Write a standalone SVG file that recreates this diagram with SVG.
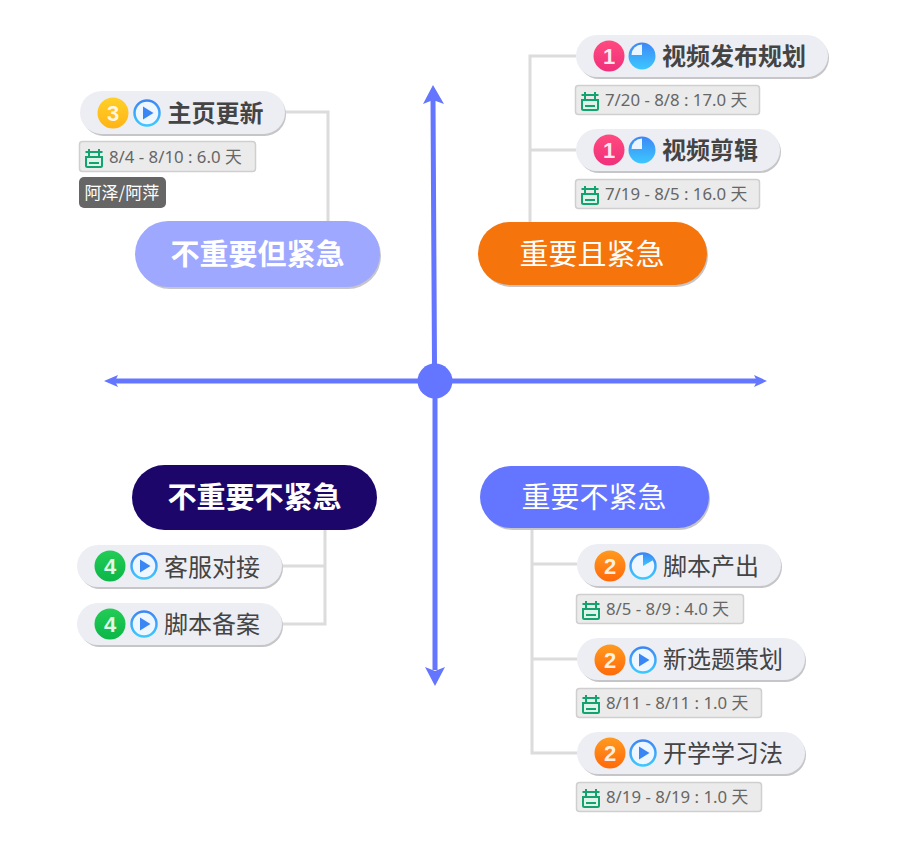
<svg xmlns="http://www.w3.org/2000/svg" xmlns:xlink="http://www.w3.org/1999/xlink" width="909" height="849" viewBox="0 0 909 849">
<style>
text{font-family:"Noto Sans CJK SC","Noto Sans",sans-serif}
.pill{fill:#edeef4;stroke:none}
.sh{fill:#c6c6c8}
.t{font-size:24px;fill:#444}
.b{font-weight:700}
.main{font-size:29px;fill:#fff;text-anchor:middle}
.date{fill:#ebebeb;stroke:#cfcfcf;stroke-width:1.5}
.dt{font-family:"Noto Sans","Noto Sans CJK SC",sans-serif;font-size:16.800px;fill:#666}
.num{font-family:"Liberation Sans",sans-serif;font-size:22px;font-weight:700;fill:#fff;text-anchor:middle;fill-opacity:.88}
.con{fill:none;stroke:#dcdcdc;stroke-width:3}
.ax{fill:none;stroke:#6476ff;stroke-width:5}
.axh{fill:#6476ff}
</style>
<defs>
<linearGradient id="g1" x1="0" y1="0" x2="0" y2="1"><stop offset="0" stop-color="#ff4a7e"/><stop offset="1" stop-color="#f0307c"/></linearGradient>
<linearGradient id="g2" x1="0" y1="0" x2="0" y2="1"><stop offset="0" stop-color="#ff9a1f"/><stop offset="1" stop-color="#ff6a0a"/></linearGradient>
<linearGradient id="g3" x1="0" y1="0" x2="0" y2="1"><stop offset="0" stop-color="#ffd02a"/><stop offset="1" stop-color="#ffb414"/></linearGradient>
<linearGradient id="g4" x1="0" y1="0" x2="0" y2="1"><stop offset="0" stop-color="#22cc55"/><stop offset="1" stop-color="#0cb648"/></linearGradient>
<linearGradient id="gp" x1="0" y1="0" x2="0" y2="1"><stop offset="0" stop-color="#3d87f5"/><stop offset="1" stop-color="#3cc8ff"/></linearGradient>
<g id="cal"><path d="M1 8V16.500Q1 18 2.500 18H15.500Q17 18 17 16.500V8" fill="#dff3ea" stroke="#12a36e" stroke-width="2"/><path d="M0.500 3H17.500M0 8H18M4 0V8M14 0V8M4 14H14" fill="none" stroke="#12a36e" stroke-width="2"/></g>
<g id="play"><circle r="12.500" fill="#eef7ff" stroke="url(#gp)" stroke-width="2.500"/><path d="M-4 -6.500L6.500 0L-4 6.500Z" fill="#3a86f5"/></g>
<g id="p75"><circle r="13.500" fill="url(#gp)"/><path d="M0 -1V-11.500A10.500 10.500 0 0 0 -10.500 -1Z" fill="#eaf5ff"/></g>
<g id="p25"><circle r="12.500" fill="#eef7ff" stroke="url(#gp)" stroke-width="2.500"/><path d="M0 0V-12.500A12.500 12.500 0 0 1 10.800 -6.200Z" fill="url(#gp)"/></g>
</defs>
<rect width="909" height="849" fill="#fff"/>
<g id="connectors">
<path class="con" d="M285 112H328V222"/>
<path class="con" d="M576 56H530V223M530 150H576"/>
<path class="con" d="M325 530V624H282M325 566H282"/>
<path class="con" d="M532 528V753H577M532 564H577M532 659H577"/>
<path class="ax" d="M433 100L434.500 365M435 396V670M420 381H112M450 381H758"/>
<path class="axh" d="M433 85L444 104L433 100L423 104Z"/>
<path class="axh" d="M435 686L425 667L435 671L445 667Z"/>
<path class="axh" d="M104 381L118 375L115 381L118 387Z"/>
<path class="axh" d="M767 381L754 375L757 381L754 387Z"/>
</g>
<g id="center"><circle cx="435" cy="381" r="17.500" fill="#6476ff"/></g>
<g id="n-tl"><rect class="sh" x="137" y="223" width="244" height="66" rx="33"/><rect x="135" y="221" width="245" height="66" rx="33" fill="#9fa8ff"/><text class="main b" x="257.500" y="265">不重要但紧急</text></g>
<g id="n-tr"><rect class="sh" x="480" y="224" width="228" height="63" rx="31.500"/><rect x="478" y="222" width="229" height="63" rx="31.500" fill="#f5750c"/><text class="main" x="592" y="265">重要且紧急</text></g>
<g id="n-br"><rect class="sh" x="482" y="468" width="228" height="62" rx="31"/><rect x="480" y="466" width="229" height="62" rx="31" fill="#6476ff"/><text class="main" x="594" y="508">重要不紧急</text></g>
<g id="n-bl"><rect x="132" y="465" width="245" height="65" rx="32.500" fill="#1d0669"/><text class="main b" x="254.500" y="508">不重要不紧急</text></g>

<g id="n1"><rect class="sh" x="578" y="37" width="251" height="42" rx="21"/><rect class="pill" x="576" y="35" width="252" height="42" rx="21"/><circle cx="609" cy="56" r="15.500" fill="url(#g1)"/><text class="num" x="609" y="64">1</text><use href="#p75" x="642" y="56"/><text class="t b" x="662" y="65">视频发布规划</text></g>
<g id="d1"><rect class="date" x="575.500" y="85.500" width="184" height="29" rx="3"/><use href="#cal" x="581" y="92"/><text class="dt" x="605" y="106">7/20 - 8/8 : 17.0 天</text></g>
<g id="n2"><rect class="sh" x="578" y="131" width="203" height="42" rx="21"/><rect class="pill" x="576" y="129" width="204" height="42" rx="21"/><circle cx="609" cy="150" r="15.500" fill="url(#g1)"/><text class="num" x="609" y="158">1</text><use href="#p75" x="642" y="150"/><text class="t b" x="662" y="159">视频剪辑</text></g>
<g id="d2"><rect class="date" x="575.500" y="179.500" width="184" height="29" rx="3"/><use href="#cal" x="581" y="186"/><text class="dt" x="605" y="200">7/19 - 8/5 : 16.0 天</text></g>

<g id="n3"><rect class="sh" x="82" y="93" width="204" height="43" rx="21.500"/><rect class="pill" x="80" y="91" width="205" height="43" rx="21.500"/><circle cx="113" cy="113" r="15.500" fill="url(#g3)"/><text class="num" x="113" y="121">3</text><use href="#play" x="147" y="113"/><text class="t b" x="167.500" y="122">主页更新</text></g>
<g id="d3"><rect class="date" x="79.500" y="141.500" width="176" height="30" rx="3"/><use href="#cal" x="85" y="149"/><text class="dt" x="109" y="163">8/4 - 8/10 : 6.0 天</text></g>
<g id="tag"><rect x="79" y="177" width="87" height="31" rx="5" fill="#666"/><text x="84.500" y="199" font-size="17" fill="#fff">阿泽/阿萍</text></g>

<g id="n4"><rect class="sh" x="579" y="546" width="203" height="42" rx="21"/><rect class="pill" x="577" y="544" width="204" height="42" rx="21"/><circle cx="610" cy="566" r="15.500" fill="url(#g2)"/><text class="num" x="610" y="574">2</text><use href="#p25" x="643" y="566"/><text class="t" x="663" y="575">脚本产出</text></g>
<g id="d4"><rect class="date" x="576.500" y="594.500" width="167" height="29" rx="3"/><use href="#cal" x="582" y="601"/><text class="dt" x="606" y="615">8/5 - 8/9 : 4.0 天</text></g>
<g id="n5"><rect class="sh" x="579" y="640" width="227" height="42" rx="21"/><rect class="pill" x="577" y="638" width="228" height="42" rx="21"/><circle cx="610" cy="660" r="15.500" fill="url(#g2)"/><text class="num" x="610" y="668">2</text><use href="#play" x="643" y="660"/><text class="t" x="663" y="668">新选题策划</text></g>
<g id="d5"><rect class="date" x="576.500" y="688.500" width="185" height="29" rx="3"/><use href="#cal" x="582" y="695"/><text class="dt" x="606" y="709">8/11 - 8/11 : 1.0 天</text></g>
<g id="n6"><rect class="sh" x="579" y="734" width="227" height="42" rx="21"/><rect class="pill" x="577" y="732" width="228" height="42" rx="21"/><circle cx="610" cy="753" r="15.500" fill="url(#g2)"/><text class="num" x="610" y="761">2</text><use href="#play" x="643" y="753"/><text class="t" x="663" y="762">开学学习法</text></g>
<g id="d6"><rect class="date" x="576.500" y="782.500" width="185" height="29" rx="3"/><use href="#cal" x="582" y="789"/><text class="dt" x="606" y="803">8/19 - 8/19 : 1.0 天</text></g>

<g id="n7"><rect class="sh" x="79" y="547" width="204" height="42" rx="21"/><rect class="pill" x="77" y="545" width="205" height="42" rx="21"/><circle cx="110" cy="566" r="15.500" fill="url(#g4)"/><text class="num" x="110" y="574">4</text><use href="#play" x="144" y="566"/><text class="t" x="164" y="576">客服对接</text></g>
<g id="n8"><rect class="sh" x="79" y="605" width="204" height="42" rx="21"/><rect class="pill" x="77" y="603" width="205" height="42" rx="21"/><circle cx="110" cy="624" r="15.500" fill="url(#g4)"/><text class="num" x="110" y="632">4</text><use href="#play" x="144" y="624"/><text class="t" x="164" y="633">脚本备案</text></g>
</svg>
